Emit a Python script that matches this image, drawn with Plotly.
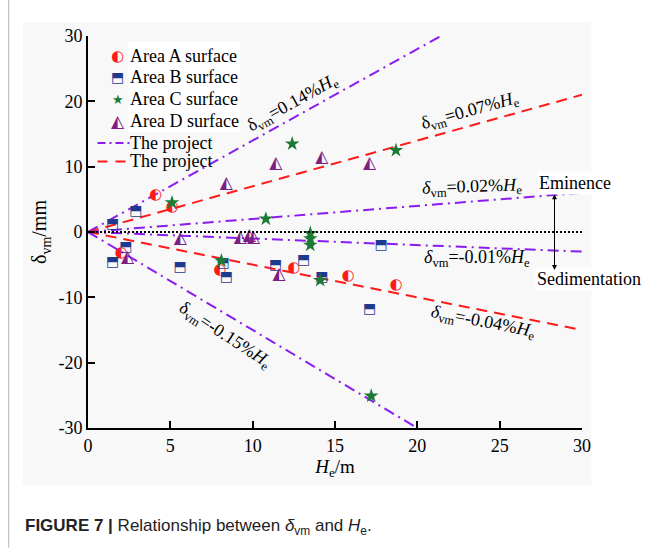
import plotly.graph_objects as go

# ---- measured settlement data (He in m, delta_vm in mm) ----
area_a_he = [4.1, 5.1, 2.0, 8.0, 12.5, 15.8, 18.7]
area_a_dv = [5.7, 3.8, -3.3, -5.8, -5.5, -6.8, -8.1]

area_b_he = [1.5, 2.9, 2.3, 1.5, 5.6, 8.2, 8.4, 11.4, 13.1, 14.2, 17.8, 17.1]
area_b_dv = [1.2, 3.1, -2.4, -4.6, -5.4, -4.8, -6.9, -5.1, -4.4, -6.9, -2.1, -11.9]

area_c_he = [5.1, 10.8, 12.4, 13.5, 13.5, 13.5, 8.1, 14.1, 18.7, 17.2]
area_c_dv = [4.5, 2.0, 13.5, -0.2, -1.0, -2.0, -4.4, -7.4, 12.5, -25.1]

area_d_he = [2.4, 5.6, 8.4, 9.25, 9.8, 10.05, 11.4, 11.6, 14.2, 17.1]
area_d_dv = [-4.0, -1.1, 7.4, -0.9, -0.6, -0.9, 10.4, -6.6, 11.3, 10.4]

# envelope lines: delta_vm = k% * He
envelope_pct = [0.14, 0.07, 0.02, -0.01, -0.05, -0.15]
envelope_label = ["0.14", "0.07", "0.02", "-0.01", "-0.04", "-0.15"]
envelope_kind = ["dashdot", "dash", "dashdot", "dashdot", "dash", "dashdot"]

x_ticks = [0, 5, 10, 15, 20, 25, 30]
y_ticks = [-30, -20, -10, 0, 10, 20, 30]
y_tick_text = ["-30", "-20", "-10", "0", "10", "20", "30"]

# ---- geometry helpers (figure pixels -> paper coords) ----
W, H = 653, 548
L, R, T, B = 87.5, 582.5, 36.0, 428.3


def px(x):
    return (x - L) / (R - L)


def py(y):
    return (B - y) / (B - T)


RED = "#ff1a1a"
PURPLE = "#8a1cf0"
BLUE = "#1e3a8f"
GREEN = "#1d7a35"
VIOLET = "#7a2084"
SERIF = "Liberation Serif"
GLYPH = "DejaVu Sans"
LABEL_SIZE = 18

fig = go.Figure()

# envelope lines
for pct, kind in zip(envelope_pct, envelope_kind):
    k = pct * 10.0  # mm per m
    x_end = min(30.0, 30.0 / abs(k))
    fig.add_trace(go.Scatter(
        x=[0, x_end], y=[0, k * x_end], mode="lines",
        line=dict(color=PURPLE if kind == "dashdot" else RED, width=2,
                  dash="11px,5px,2px,5px" if kind == "dashdot" else "11px,7px"),
        showlegend=False, hoverinfo="skip"))

# measured points
fig.add_trace(go.Scatter(x=area_a_he, y=area_a_dv, mode="text", text=["◐"] * len(area_a_he),
                         textfont=dict(family=GLYPH, size=15, color=RED),
                         showlegend=False))
fig.add_trace(go.Scatter(x=area_b_he, y=area_b_dv, mode="text", text=["⬒"] * len(area_b_he),
                         textfont=dict(family=GLYPH, size=14, color=BLUE),
                         showlegend=False))
fig.add_trace(go.Scatter(x=area_c_he, y=area_c_dv, mode="markers",
                         marker=dict(symbol="star", size=11, color=GREEN, line=dict(width=0)),
                         showlegend=False))
fig.add_trace(go.Scatter(x=area_d_he, y=area_d_dv, mode="text", text=["◭"] * len(area_d_he),
                         textfont=dict(family=GLYPH, size=17, color=VIOLET),
                         showlegend=False))

shapes = [
    # panel background
    dict(type="rect", xref="paper", yref="paper", x0=px(22), x1=px(592), y0=py(485), y1=py(22),
         fillcolor="#f8f8f8", line=dict(width=0), layer="below"),
    # page rule on the left
    dict(type="line", xref="paper", yref="paper", x0=px(8), x1=px(8), y0=py(0), y1=py(548),
         line=dict(color="#b5b5b5", width=1)),
    # white box behind legend labels
    dict(type="rect", xref="paper", yref="paper", x0=px(128), x1=px(240), y0=py(132), y1=py(42),
         fillcolor="white", line=dict(width=0), layer="below"),
    # zero line
    dict(type="line", xref="x", yref="y", x0=0, x1=30, y0=0, y1=0,
         line=dict(color="black", width=2, dash="2px,2px")),
    # legend line samples
    dict(type="line", xref="paper", yref="paper", x0=px(97), x1=px(129), y0=py(143), y1=py(143),
         line=dict(color=PURPLE, width=2, dash="8px,4px,2px,4px")),
    dict(type="line", xref="paper", yref="paper", x0=px(97), x1=px(129), y0=py(161.5), y1=py(161.5),
         line=dict(color=RED, width=2, dash="10px,8px")),
]

ann = []
# legend entries
legend_rows = [("◐", RED, 15, "Area A surface", 56), ("⬒", BLUE, 14, "Area B surface", 77.5),
               ("★", GREEN, 13, "Area C surface", 99.5), ("◭", VIOLET, 17, "Area D surface", 121),
               (None, None, 0, "The project", 143), (None, None, 0, "The project", 161.5)]
for sym, col, sz, label, yy in legend_rows:
    if sym:
        ann.append(dict(xref="paper", yref="paper", x=px(117.5), y=py(yy), text=sym,
                        xanchor="center", yanchor="middle", showarrow=False,
                        font=dict(family=GLYPH, size=sz, color=col)))
    ann.append(dict(xref="paper", yref="paper", x=px(128), y=py(yy), xanchor="left",
                    yanchor="middle", text=label, showarrow=False,
                    font=dict(family=SERIF, size=LABEL_SIZE, color="black")))

# envelope labels
label_pos = [(12.45, 19.6, -29, False), (23.2, 18.4, -15.5, False), (23.3, 6.8, -2, True),
             (23.6, -4.0, 0, True), (24.0, -13.9, 11, True), (8.3, -15.8, 33, False)]
for lab, (xx, yy, ang, it) in zip(envelope_label, label_pos):
    d = "<i>δ</i>" if it else "δ"
    ann.append(dict(x=xx, y=yy, textangle=ang, showarrow=False,
                    xanchor="center", yanchor="middle",
                    text=f"{d}<sub>vm</sub>={lab}%<i>H</i><sub>e</sub>",
                    font=dict(family=SERIF, size=LABEL_SIZE, color="black")))

ann.append(dict(xref="paper", yref="paper", x=px(575), y=py(183), text="Eminence",
                xanchor="center", yanchor="middle", showarrow=False, bgcolor="white",
                font=dict(family=SERIF, size=LABEL_SIZE, color="black")))
ann.append(dict(xref="paper", yref="paper", x=px(590), y=py(279), text="Sedimentation",
                xanchor="center", yanchor="middle", showarrow=False, bgcolor="white",
                font=dict(family=SERIF, size=LABEL_SIZE, color="black")))
ann.append(dict(x=28.33, y=-5.8, ax=28.33, ay=6.0, axref="x", ayref="y", text="",
                showarrow=True, arrowside="end+start", arrowhead=2, arrowsize=1,
                arrowwidth=1, arrowcolor="black"))

# caption
ann.append(dict(xref="paper", yref="paper", x=px(22), y=py(527), xanchor="left", yanchor="middle",
                showarrow=False,
                text="<b>FIGURE 7 |</b> Relationship between <i>δ</i><sub>vm</sub> and <i>H</i><sub>e</sub>.",
                font=dict(family="Liberation Sans", size=17, color="#222222")))

axis_common = dict(showline=True, linecolor="black", linewidth=2, ticks="inside", ticklen=7,
                   tickwidth=2, tickcolor="black", showgrid=False, zeroline=False,
                   tickfont=dict(family=SERIF, size=18, color="black"))

fig.update_layout(
    width=W, height=H,
    margin=dict(l=L, r=W - R, t=T, b=H - B),
    paper_bgcolor="white", plot_bgcolor="rgba(0,0,0,0)",
    xaxis=dict(range=[0, 30], tickvals=x_ticks,
               title=dict(text="<i>H</i><sub>e</sub>/m", font=dict(family=SERIF, size=19, color="black"),
                          standoff=2), **axis_common),
    yaxis=dict(range=[-30, 30], tickvals=y_ticks, ticktext=y_tick_text,
               title=dict(text="δ<sub>vm</sub>/mm", font=dict(family=SERIF, size=20, color="black"),
                          standoff=6), **axis_common),
    shapes=shapes, annotations=ann, showlegend=False,
)

fig.write_html("out.html")
